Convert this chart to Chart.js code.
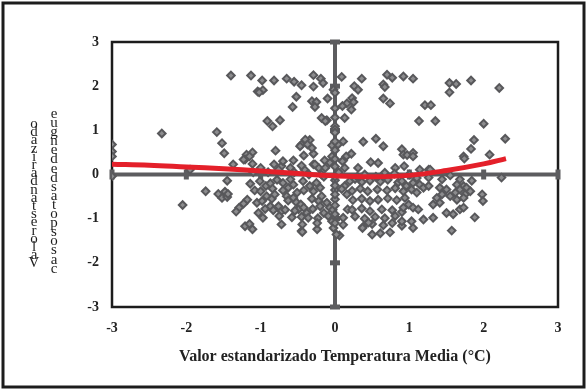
<!DOCTYPE html>
<html>
<head>
<meta charset="utf-8">
<script src="https://cdn.jsdelivr.net/npm/chart.js@4.4.1/dist/chart.umd.min.js"></script>
<style>
  html, body { margin: 0; padding: 0; background: #fff; }
  #wrap { width: 587px; height: 390px; }
</style>
</head>
<body>
<div id="wrap"><canvas id="scatterChart" width="587" height="390"></canvas></div>
<script>
// valores estandarizados: temperatura media (x) y casos de dengue (y)
const tempStd = [
  -3, -3, -3, -3, -2.33, -1.59, -1.52, -1.49, -1.40, -1.13, -1.04,
  -1.19, -1.11, -1.21, -1.37, -1.23, -1.15, -1.11,
  -0.98, -0.82, -0.65, -0.55, -0.45, -0.29, -0.19, -0.29, -0.16, 0.09,
  -0.97, -1.02, -0.52, -0.57, -0.31, -0.25, -0.27, -0.10, -0.02,
  -0.18, -0.11, -0.13, 0.16, -0.91, -0.84, -0.74,
  -0.80, -0.56, -0.45, -0.34, -0.40, -0.42, -0.29, -0.47, -0.37, -0.31,
  -0.04, 0.11, 0.15, -0.07, 0.04,
  -0.82, -0.72, -0.76, -0.29, -0.22,
  0.26, 0.31, 0.36, 0.23, 0.25, 0.22, 0.10, 0.13,
  0.70, 0.77, 0.92, 0.65, 0.67, 0.65, 0.74,
  0, 0, 0,
  0.22, 0.38, 0.55, 0.65, 0.90, 0.92,
  1.05, 1.54, 1.63, 1.54, 1.83, 2.21,
  1.21, 1.29, 1.13, 1.35, 2.00,
  1.87, 1.83, 2.29, 0.97, 1.05, 1.73, 2.08,
  0.48, 0.58, 0.11, 0.31, 0.81, 1.14, 1.26, 0.67, 2.24,
  -0.14, -0.04, -0.13, -0.18, 0.10, 0.13, 0.93, -0.27, -0.41,
  1.05, 1.74,
  -1.95, -1.45, -1.74, -1.57, -1.52, -1.48, -1.45, -1.44, -2.05,
  -1.14, -1.08, -1.18, -1.23, -1.29, -1.33, -1.05, -1.03, -1.21, -1.15, -1.11,
  -0.93, -0.87, -0.84, -0.92, -0.85, -0.81, -0.87, -0.83, -0.76, -0.72, -0.75, -0.72,
  -0.70, -0.63, -0.56, -0.60, -0.65, -0.56, -0.51, -0.52, -0.46, -0.49, -0.42, -0.38, -0.45, -0.36, -0.45, -0.24,
  -0.43, -0.34, -0.42, -0.29, -0.25, -0.20, -0.31, -0.22, -0.18, -0.20, -0.11, -0.07, -0.15, -0.09, -0.04, -0.02, 0.06,
  0.13, 0.16, 0.17, 0.11,
  -1.01, -0.78, 0, 0.20, 0.27, 0.36, 0.47, 0.61, 0.71, 0.85,
  -1.00, -0.70, 0, 0.09, 0.23, 0.34, 0.44, 0.57, 0.70, 0.81,
  -0.98, -0.63, 0, 0.24, 0.36, 0.47, 0.58, 0.71, 0.83,
  -0.94, -0.67, -0.54, -0.30, -0.03, 0.23, 0.36, 0.47, 0.63, 0.77, 0.90,
  -0.97, -0.58, -0.23, 0, 0.27, 0.40, 0.54, 0.67, 0.81,
  -0.44, -0.24, 0.11, 0.38, 0.50, 0.65, 0.77, 0.90,
  0.50, 0.61, 0.74, 0.02, -0.44, 0.37, 0.45,
  1.28, 1.26, 1.44, 1.55, 1.68, 1.84, 1.73, 1.64,
  0.90, 0.96, 1.05, 1.14, 0.92, 1.03, 1.10, 1.19, 1.26,
  1.41, 1.50, 1.44, 1.55, 1.62, 1.68, 1.75, 1.77, 1.64, 1.73, 1.82,
  1.98, 1.99, 1.37, 1.32, 1.41,
  0.94, 0.99, 1.05, 1.12, 0.92,
  1.50, 1.59, 1.68, 1.73, 1.88,
  0.90, 1.03, 1.19, 1.32, 1.05, 1.57,
  0, 0, 0, 0, 0, 0, 0, 0, 0, 0, 0, 0, 0,
  -0.60, -0.45, -0.35, -0.55, -0.70, -0.90, -1.00, -1.10, -0.15, 0.05, 0.40, 0.55, 0.80, 1.00, 1.10, 0.30
];
const dengueStd = [
  0.68, 0.52, 0.41, -0.04, 0.93, 0.96, 0.71, 0.48, 2.24, 2.24, 1.88,
  0.45, 0.50, 0.34, 0.23, 0.34, 0.41, 0.24,
  2.13, 2.13, 2.17, 2.10, 2.02, 2.25, 2.17, 1.99, 2.07, 2.21,
  1.91, 1.86, 1.76, 1.53, 1.66, 1.64, 1.53, 1.72, 1.92,
  1.28, 1.23, 1.21, 1.61, 1.21, 1.09, 1.23,
  0.54, 0.32, 0.68, 0.78, 0.79, 0.43, 0.47, 0.64, 0.68, 0.60,
  0.66, 0.75, 0.41, 0.27, 0.68,
  0.23, 0.19, 0.11, 0.23, 0.15,
  2.00, 1.92, 2.17, 1.73, 1.64, 1.47, 1.55, 1.28,
  2.26, 2.19, 2.22, 2.04, 1.98, 1.72, 1.61,
  1.29, 1.09, 1.02,
  0.47, 0.74, 0.81, 0.64, 0.57, 0.45,
  2.17, 2.07, 2.05, 1.86, 2.13, 1.96,
  1.57, 1.57, 1.21, 1.21, 1.15,
  0.78, 0.58, 0.81, 0.44, 0.49, 0.41, 0.45,
  0.28, 0.26, 0.32, 0.15, 0.15, 0.11, 0.11, 0.04, -0.07,
  0.32, 0.41, 0.15, 0.00, 0.30, 0.15, 0.19, 0.23, 0.11,
  0.41, 0.36,
  0.11, -0.14, -0.38, -0.44, -0.53, -0.39, -0.51, -0.44, -0.69,
  -0.21, -0.36, -0.57, -0.66, -0.75, -0.84, -0.64, -0.87, -1.17, -1.12, -1.24,
  -0.26, -0.20, -0.32, -0.49, -0.55, -0.45, -0.72, -0.81, -0.72, -0.83, -0.94, -1.13,
  -0.19, -0.30, -0.23, -0.11, -0.49, -0.53, -0.41, -0.63, -0.68, -0.79, -0.75, -0.87, -0.96, -0.98, -1.28, -1.24,
  -0.15, -0.26, -0.36, -0.38, -0.19, -0.30, -0.55, -0.60, -0.49, -0.72, -0.64, -0.75, -0.87, -0.94, -1.06, -1.21, -1.38,
  -0.26, -0.45, -0.79, -0.98,
  -0.15, -0.12, -0.13, -0.15, -0.10, -0.17, -0.14, -0.16, -0.12, -0.18,
  -0.38, -0.36, -0.35, -0.33, -0.37, -0.32, -0.38, -0.34, -0.36, -0.31,
  -0.60, -0.59, -0.56, -0.58, -0.55, -0.60, -0.57, -0.54, -0.58,
  -0.78, -0.80, -0.82, -0.78, -0.80, -0.80, -0.77, -0.83, -0.79, -0.81, -0.85,
  -0.98, -0.97, -0.99, -0.96, -0.95, -1.00, -0.96, -0.99, -0.94,
  -1.13, -1.10, -1.14, -1.18, -1.12, -1.15, -1.10, -1.16,
  -1.36, -1.33, -1.31, -1.36, -1.30, -1.21, -1.09,
  0.11, -0.07, -0.11, -0.02, -0.11, -0.14, -0.26, -0.23,
  -0.15, -0.26, -0.19, -0.23, -0.38, -0.34, -0.41, -0.30, -0.26,
  -0.30, -0.34, -0.45, -0.49, -0.41, -0.34, -0.45, -0.30, -0.57, -0.53, -0.38,
  -0.45, -0.60, -0.53, -0.68, -0.64,
  -0.53, -0.68, -0.75, -0.79, -0.75,
  -0.87, -0.90, -0.79, -0.75, -0.97,
  -1.06, -1.06, -1.02, -0.98, -1.21, -1.27,
  1.85, 1.50, 0.95, 0.75, 0.55, 0.35, 0.18, -0.05, -0.25, -0.45, -0.70, -0.90, -1.10,
  0.15, 0.20, 0.00, 0.05, 0.30, 0.05, 0.15, 0.05, -0.05, 0.05, 0.00, -0.05, 0.02, 0.00, -0.08, -0.05
];

// curva de ajuste (roja)
const fitX = [-3, -2.5, -2, -1.5, -1, -0.5, 0, 0.5, 1, 1.5, 2, 2.3];
const fitY = [0.23, 0.21, 0.17, 0.13, 0.08, 0.02, -0.03, -0.05, -0.02, 0.09, 0.24, 0.36];

const tickVals = [-3, -2, -1, 0, 1, 2, 3];
const xTitle = "Valor estandarizado Temperatura Media (°C)";
const yTitleCol1 = "Valor estandarizado";
const yTitleCol2 = "casospotasdedengue";

const points = tempStd.map((v, i) => ({ x: v, y: dengueStd[i] }));
const fitLine = fitX.map((v, i) => ({ x: v, y: fitY[i] }));

const axisGrey = "#5c5c5f";

const framePlugin = {
    id: "framePlugin",
    beforeDatasetsDraw(chart) {
        const { ctx, chartArea: a, scales: { x, y } } = chart;
        ctx.save();
        ctx.strokeStyle = "#1c1c1c";
        ctx.lineWidth = 2.5;
        ctx.strokeRect(a.left, a.top, a.right - a.left, a.bottom - a.top);

        const x0 = x.getPixelForValue(0);
        const y0 = y.getPixelForValue(0);
        ctx.strokeStyle = axisGrey;
        ctx.lineWidth = 4;
        ctx.beginPath();
        ctx.moveTo(a.left, y0);
        ctx.lineTo(a.right, y0);
        ctx.moveTo(x0, a.top);
        ctx.lineTo(x0, a.bottom);
        ctx.stroke();

        ctx.fillStyle = axisGrey;
        tickVals.forEach(v => {
            if (v === 0) return;
            const px = x.getPixelForValue(v);
            ctx.fillRect(px - 2.5, y0 - 5, 5, 10);
            const py = y.getPixelForValue(v);
            ctx.fillRect(x0 - 5, py - 2.5, 10, 5);
        });
        ctx.restore();
    },
    afterDraw(chart) {
        const { ctx } = chart;
        ctx.save();
        // marco exterior
        ctx.strokeStyle = "#1c1c1c";
        ctx.lineWidth = 3;
        ctx.strokeRect(3, 3, 581, 384);

        // titulo del eje y, letras apiladas
        ctx.fillStyle = "#1e1e1e";
        ctx.font = "15px 'Liberation Serif'";
        ctx.textAlign = "center";
        ctx.textBaseline = "middle";
        const c1 = yTitleCol1.replace(/ /g, "").split("").reverse();
        c1.forEach((ch, i) => ctx.fillText(ch, 34, 124 + i * 8.2));
        const c2 = yTitleCol2.split("").reverse();
        c2.forEach((ch, i) => ctx.fillText(ch, 54, 114 + i * 9.1));
        ctx.restore();
    }
};

new Chart(document.getElementById("scatterChart"), {
    type: "scatter",
    data: {
        datasets: [
            {
                type: "line",
                data: fitLine,
                borderColor: "#e4202a",
                borderWidth: 5,
                pointRadius: 0,
                tension: 0.4,
                fill: false,
                order: 0
            },
            {
                data: points,
                pointStyle: "rectRot",
                pointRadius: 3.8,
                backgroundColor: "#8c8c8e",
                borderColor: "#58585b",
                borderWidth: 2,
                order: 1
            }
        ]
    },
    options: {
        responsive: false,
        animation: false,
        maintainAspectRatio: false,
        devicePixelRatio: 1,
        layout: { padding: { left: 0, top: 42, right: 29, bottom: 0 } },
        plugins: {
            legend: { display: false },
            tooltip: { enabled: false }
        },
        scales: {
            x: {
                type: "linear",
                min: -3,
                max: 3,
                afterBuildTicks: s => { s.ticks = tickVals.map(v => ({ value: v })); },
                afterFit: s => { s.height = 83; },
                grid: { display: false, drawTicks: false },
                border: { display: false },
                ticks: {
                    color: "#222",
                    padding: 13,
                    font: { family: "'Liberation Serif'", size: 14, weight: "bold" }
                },
                title: {
                    display: true,
                    text: xTitle,
                    color: "#222",
                    padding: { top: 4, bottom: 24 },
                    font: { family: "'Liberation Serif'", size: 16, weight: "bold" }
                }
            },
            y: {
                type: "linear",
                min: -3,
                max: 3,
                afterBuildTicks: s => { s.ticks = tickVals.map(v => ({ value: v })); },
                afterFit: s => { s.width = 112; },
                grid: { display: false, drawTicks: false },
                border: { display: false },
                ticks: {
                    color: "#222",
                    padding: 13,
                    font: { family: "'Liberation Serif'", size: 14, weight: "bold" }
                }
            }
        }
    },
    plugins: [framePlugin]
});
</script>
</body>
</html>
